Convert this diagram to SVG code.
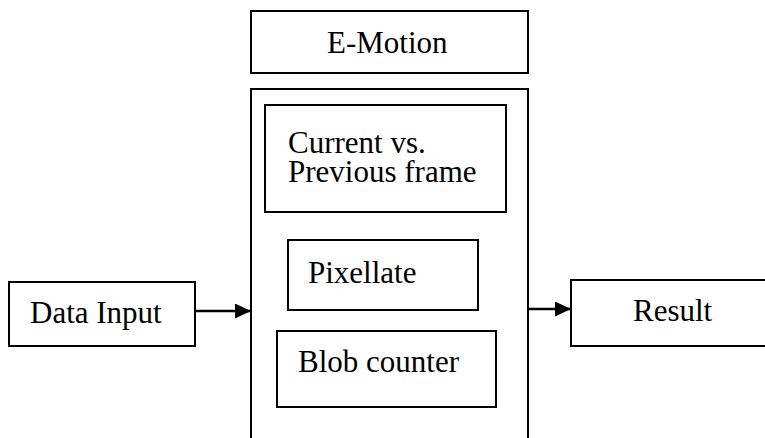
<svg xmlns="http://www.w3.org/2000/svg" width="765" height="438" viewBox="0 0 765 438">
<style>
.b{fill:#fff;stroke:#000;stroke-width:2}
text{font-family:"Liberation Serif","Times New Roman","DejaVu Serif",serif;font-size:31px;fill:#000}
.c{stroke:#000;stroke-width:2.5;fill:none}
</style>
<defs>
<marker id="ah" markerWidth="16" markerHeight="15" refX="16" refY="7.5" orient="auto" markerUnits="userSpaceOnUse">
<path d="M0,0 L16,7.5 L0,15 Z" fill="#000"/>
</marker>
</defs>
<rect width="765" height="438" fill="#fff"/>
<g id="emotion-title">
<rect class="b" x="251" y="11" width="277" height="62"/>
<text x="327" y="53" font-family="Liberation Serif, serif">E-Motion</text>
</g>
<g id="emotion-container">
<path class="b" d="M251,440 L251,89 L528,89 L528,440"/>
</g>
<g id="current-vs-previous">
<rect class="b" x="265" y="105" width="241" height="107"/>
<text x="288" y="153" font-family="Liberation Serif, serif">Current vs.</text>
<text x="288" y="182" font-family="Liberation Serif, serif">Previous frame</text>
</g>
<g id="pixellate">
<rect class="b" x="288" y="240" width="190" height="70"/>
<text x="308" y="283" font-family="Liberation Serif, serif">Pixellate</text>
</g>
<g id="blob-counter">
<rect class="b" x="277" y="331" width="219" height="76"/>
<text x="298" y="372" font-family="Liberation Serif, serif">Blob counter</text>
</g>
<g id="data-input">
<rect class="b" x="9" y="282" width="186" height="64"/>
<text x="30" y="323" font-family="Liberation Serif, serif">Data Input</text>
</g>
<g id="result">
<rect class="b" x="571" y="280" width="200" height="66"/>
<text x="633" y="321" font-family="Liberation Serif, serif">Result</text>
</g>
<g id="connectors">
<line class="c" x1="195" y1="311" x2="251" y2="311" marker-end="url(#ah)"/>
<line class="c" x1="528" y1="309" x2="571" y2="309" marker-end="url(#ah)"/>
</g>
</svg>
